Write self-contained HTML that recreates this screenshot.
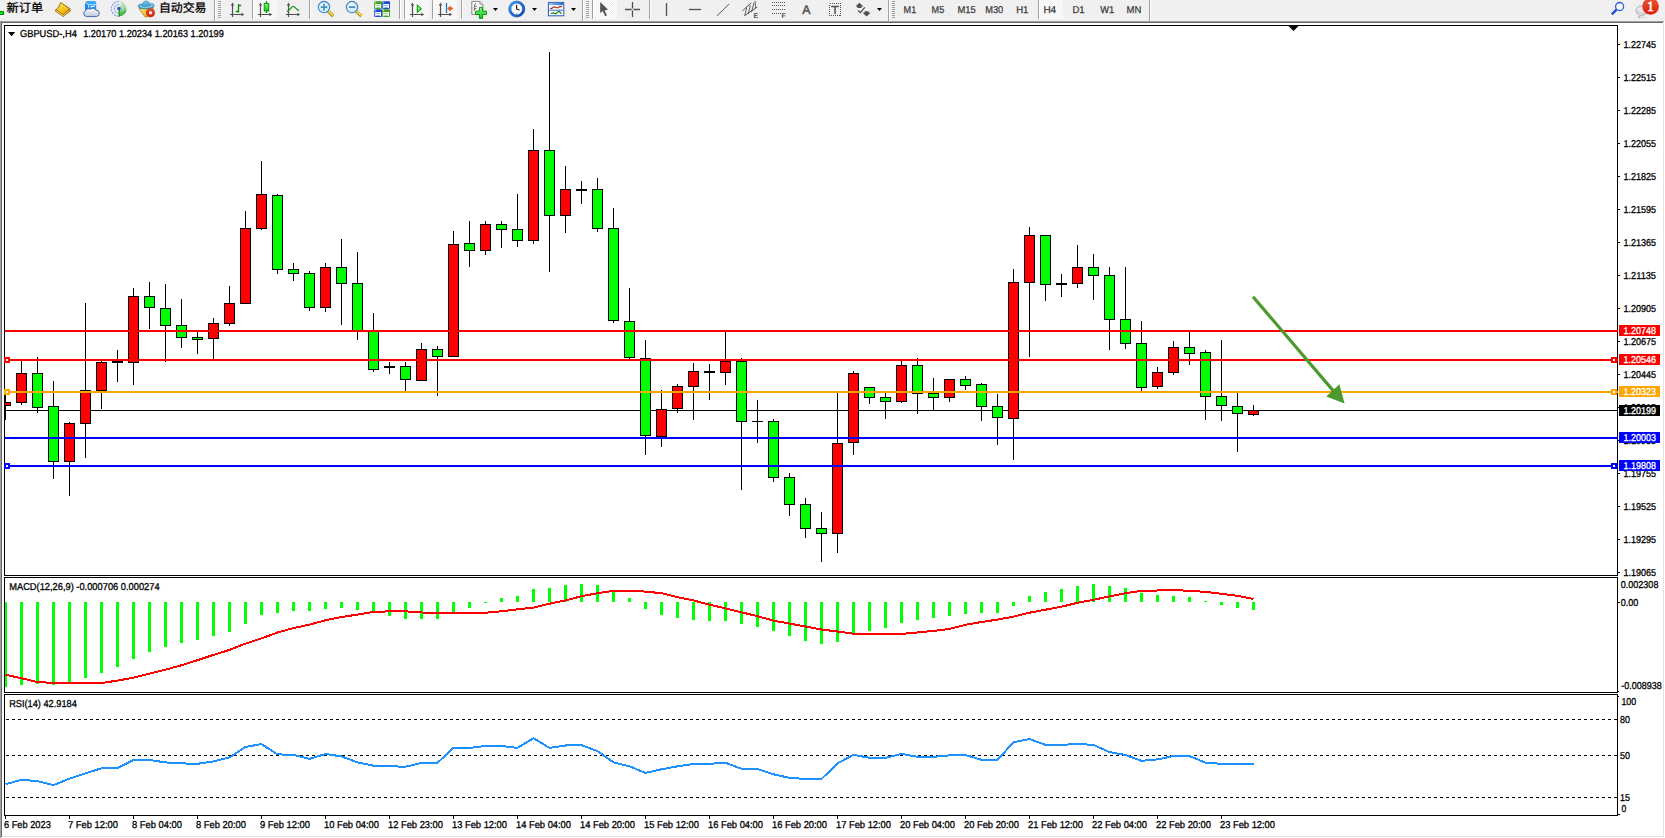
<!DOCTYPE html>
<html lang="zh"><head><meta charset="utf-8"><title>GBPUSD-,H4</title>
<style>html,body{margin:0;padding:0;background:#fff;overflow:hidden}svg{display:block}text{font-family:"Liberation Sans", "Noto Sans CJK SC", sans-serif;text-rendering:geometricPrecision}.c{shape-rendering:crispEdges}</style></head><body>
<svg width="1665" height="838" viewBox="0 0 1665 838">
<defs><clipPath id="cpMain"><rect x="5" y="26" width="1612" height="549"/></clipPath><clipPath id="cpTop"><rect x="0" y="0" width="1665" height="21"/></clipPath><pattern id="chk" width="2" height="2" patternUnits="userSpaceOnUse"><rect width="2" height="2" fill="#f0f0f0"/><rect width="1" height="1" fill="#fff"/><rect x="1" y="1" width="1" height="1" fill="#fff"/></pattern><linearGradient id="gGold" x1="0" y1="0" x2="1" y2="1"><stop offset="0" stop-color="#fbe85a"/><stop offset=".5" stop-color="#f2c81a"/><stop offset="1" stop-color="#dca012"/></linearGradient><linearGradient id="gBlueBox" x1="0" y1="0" x2="1" y2="0"><stop offset="0" stop-color="#0a8cf0"/><stop offset=".35" stop-color="#27a4f8"/><stop offset="1" stop-color="#1590f0"/></linearGradient><linearGradient id="gCloud" x1="0" y1="0" x2="0" y2="1"><stop offset="0" stop-color="#ffffff"/><stop offset="1" stop-color="#b9c7de"/></linearGradient><linearGradient id="gGreenV" x1="0" y1="0" x2="0" y2="1"><stop offset="0" stop-color="#7dfc7d"/><stop offset="1" stop-color="#10c410"/></linearGradient><linearGradient id="gRedB" x1="0" y1="0" x2="0" y2="1"><stop offset="0" stop-color="#e9573a"/><stop offset="1" stop-color="#d81e08"/></linearGradient><linearGradient id="gHat" x1="0" y1="0" x2="0" y2="1"><stop offset="0" stop-color="#7cc4ea"/><stop offset="1" stop-color="#3c98cc"/></linearGradient><linearGradient id="gFun" x1="0" y1="0" x2="1" y2="1"><stop offset="0" stop-color="#fbe870"/><stop offset="1" stop-color="#e2a818"/></linearGradient><radialGradient id="gLens" cx=".4" cy=".35" r=".7"><stop offset="0" stop-color="#f4fbff"/><stop offset="1" stop-color="#bfe3f8"/></radialGradient><linearGradient id="gSig" x1="0" y1="0" x2=".35" y2="1"><stop offset="0" stop-color="#dcebe0"/><stop offset=".55" stop-color="#8cc890"/><stop offset="1" stop-color="#1fa01f"/></linearGradient><linearGradient id="gClk" x1="0" y1="0" x2="1" y2="1"><stop offset="0" stop-color="#4a9cf0"/><stop offset=".5" stop-color="#1c6cd4"/><stop offset="1" stop-color="#0a48a8"/></linearGradient><linearGradient id="gHdr" x1="0" y1="0" x2="1" y2="0"><stop offset="0" stop-color="#9cc4f0"/><stop offset="1" stop-color="#2c68c8"/></linearGradient></defs>
<rect x="0" y="0" width="1665" height="838" fill="#ffffff"/>
<rect x="0" y="0" width="1665" height="21" fill="#f0f0f0"/>
<g class="c">
<rect x="0" y="21" width="1664" height="1" fill="#a0a0a0"/>
<rect x="0" y="22" width="1663" height="1" fill="#696969"/>
<rect x="0" y="21" width="1" height="817" fill="#a0a0a0"/>
<rect x="1" y="22" width="1" height="815" fill="#696969"/>
<rect x="1663" y="23" width="1" height="814" fill="#e3e3e3"/>
<rect x="2" y="836" width="1662" height="1" fill="#e3e3e3"/>
<rect x="1664" y="21" width="1" height="817" fill="#ffffff"/>
<rect x="1" y="837" width="1664" height="1" fill="#ffffff"/>
</g>
<g clip-path="url(#cpTop)">
<rect x="0" y="11" width="4" height="4" fill="#0a8a0a" class="c"/>
<rect x="0" y="12" width="3" height="2" fill="#00e422" class="c"/>
<text x="6.6" y="11.8" font-size="12" fill="#000" textLength="36.5" lengthAdjust="spacingAndGlyphs" stroke="#000" stroke-width="0.3">新订单</text>
<path d="M60.5 1.9L70 8.3L71.1 10.7L63.2 17.1L54.8 11L55.5 9.6C57.6 8.2 59 5.6 60.5 1.9z" fill="#a96c0a"/><path d="M60.8 3.2L69 8.8L63.2 14.2L56.8 9.8C58.4 8.2 59.8 6 60.8 3.2z" fill="url(#gGold)"/><path d="M56 10.6L63.2 15.7L70 10" fill="none" stroke="#f0d27a" stroke-width="1"/><path d="M61 4.2L67.6 8.8" fill="none" stroke="#fbf0a0" stroke-width=".7" opacity=".8"/>
<path d="M85.2 2.6L87.6 1.2H94.8L96.2 2.6V10H85.2z" fill="#1b94f2"/><path d="M85.2 2.6L88.4 4.6V10H85.2z" fill="#0f86ea"/><path d="M85.2 2.6L87.6 1.2H94.8L96.2 2.6L95.6 4.6H88.4z" fill="#3aa8fa"/><path d="M85.4 2.8L88.4 4.7V10M88.4 4.7H96" stroke="#e4f4ff" stroke-width=".8" fill="none"/><path d="M90.4 6.9L94.6 6.1" stroke="#f0f8ff" stroke-width="1.1"/><path d="M86.5 16.6a3.2 3.2 0 0 1-.6-6.2a3 3 0 0 1 4.4-1.2a3.4 3.4 0 0 1 5.4.9a3.2 3.2 0 0 1 .6 6.5z" fill="url(#gCloud)" stroke="#4668aa" stroke-width="1"/>
<path d="M119 9V16.6A7.7 7.7 0 0 0 126.5 8.4A7.7 7.7 0 0 0 121.6 1.8z" fill="url(#gSig)" opacity=".9"/><g fill="none" stroke="#8aa4e6" stroke-width="1.2" stroke-dasharray="2.2 .8"><path d="M118.8 1.4A7.4 7.4 0 0 0 118.8 16.2"/><path d="M118.8 4.4A4.4 4.4 0 0 0 118.8 13.2"/></g><g fill="none" stroke="#cfe6d4" stroke-width="1.1"><path d="M118.8 1.4A7.4 7.4 0 0 1 126.2 8.8"/><path d="M118.8 4.4A4.4 4.4 0 0 1 122.9 10.4"/></g><path d="M119.3 9V16.6" stroke="#12a012" stroke-width="1.5"/><circle cx="118.8" cy="8.6" r="1.8" fill="#2456d6"/>
<path d="M139 8.6L153.6 7.4L147.4 16.9L145 16.8z" fill="url(#gFun)" stroke="#c08a12" stroke-width=".9"/><path d="M138.2 6.4C138.2 4.6 140.4 3.6 142.4 4.4L149.8 4.2C151.8 3 154.2 3.8 154 5.6C153.6 8 149.6 8.8 146 8.8C142.2 8.8 138.2 8.2 138.2 6.4z" fill="url(#gHat)" stroke="#2a86b8" stroke-width=".8"/><path d="M142.3 6C142.3 2.6 143.8 1.1 146.1 1.1C148.4 1.1 149.9 2.6 149.9 6C148.8 6.9 143.4 6.9 142.3 6z" fill="url(#gHat)" stroke="#2a86b8" stroke-width=".7"/><path d="M140.2 6.3C141.8 7.7 150.4 7.7 152.2 5.7" stroke="#c4e4f6" stroke-width=".8" fill="none"/><circle cx="150.5" cy="12.8" r="4.1" fill="url(#gRedB)" stroke="#b81808" stroke-width=".6"/><rect x="149.2" y="11.5" width="2.7" height="2.7" fill="#fff"/>
<text x="158.9" y="11.8" font-size="12" fill="#000" textLength="47.6" lengthAdjust="spacingAndGlyphs" stroke="#000" stroke-width="0.3">自动交易</text>
<rect x="214" y="0" width="1" height="21" fill="#a0a0a0" class="c"/>
<rect x="215" y="0" width="1" height="21" fill="#ffffff" class="c"/>
<rect x="218" y="1" width="3" height="1" fill="#a0a0a0" class="c"/>
<rect x="218" y="3" width="3" height="1" fill="#a0a0a0" class="c"/>
<rect x="218" y="5" width="3" height="1" fill="#a0a0a0" class="c"/>
<rect x="218" y="7" width="3" height="1" fill="#a0a0a0" class="c"/>
<rect x="218" y="9" width="3" height="1" fill="#a0a0a0" class="c"/>
<rect x="218" y="11" width="3" height="1" fill="#a0a0a0" class="c"/>
<rect x="218" y="13" width="3" height="1" fill="#a0a0a0" class="c"/>
<rect x="218" y="15" width="3" height="1" fill="#a0a0a0" class="c"/>
<rect x="218" y="17" width="3" height="1" fill="#a0a0a0" class="c"/>
<g stroke="#505050" stroke-width="1.2" fill="none"><path d="M232.5 4V17M230 14.5H242.5"/></g><path d="M232.5 2.6l-1.7 2.8h3.4zM244.2 14.5l-2.8-1.7v3.4z" fill="#505050"/>
<path d="M238.5 4V12.8M238.5 5.5H241.2M235.8 11.5H238.5" stroke="#0c8c0c" stroke-width="1.3" fill="none"/>
<rect x="252" y="0" width="1" height="19" fill="#a0a0a0" class="c"/>
<rect x="253" y="0" width="1" height="19" fill="#ffffff" class="c"/>
<rect x="254" y="0" width="23" height="19" fill="url(#chk)" class="c"/>
<g stroke="#505050" stroke-width="1.2" fill="none"><path d="M260.5 4V17M258 14.5H270.5"/></g><path d="M260.5 2.6l-1.7 2.8h3.4zM272.2 14.5l-2.8-1.7v3.4z" fill="#505050"/>
<path d="M266.5 1V13" stroke="#0c8c0c" stroke-width="1.2"/><rect x="264.2" y="3.4" width="4.6" height="7.6" fill="url(#gGreenV)" stroke="#0c8c0c" stroke-width=".9"/>
<g stroke="#505050" stroke-width="1.2" fill="none"><path d="M288.5 4V17M286 14.5H298.5"/></g><path d="M288.5 2.6l-1.7 2.8h3.4zM300.2 14.5l-2.8-1.7v3.4z" fill="#505050"/>
<path d="M287 11.6C290 10 291.5 6.4 293.2 6.4C295 6.4 296.5 9.8 299 10.6" stroke="#2a9a2a" stroke-width="1.3" fill="none"/>
<rect x="309" y="0" width="1" height="19" fill="#a0a0a0" class="c"/>
<rect x="310" y="0" width="1" height="19" fill="#ffffff" class="c"/>
<path d="M327.8 10.8L333.4 16.2" stroke="#b08a0c" stroke-width="3.2" stroke-linecap="butt"/><path d="M328 10.6L333.4 15.8" stroke="#f4e060" stroke-width="1.5"/><circle cx="324" cy="7.1" r="5.7" fill="url(#gLens)" stroke="#3f84c8" stroke-width="1.1"/>
<path d="M320.7 7.1H327.3M324 3.8V10.4" stroke="#4c8eb6" stroke-width="1.7"/>
<path d="M355.8 10.8L361.4 16.2" stroke="#b08a0c" stroke-width="3.2" stroke-linecap="butt"/><path d="M356 10.6L361.4 15.8" stroke="#f4e060" stroke-width="1.5"/><circle cx="352" cy="7.1" r="5.7" fill="url(#gLens)" stroke="#3f84c8" stroke-width="1.1"/>
<path d="M348.7 7.1H355.3" stroke="#4c8eb6" stroke-width="1.7"/>
<rect x="374.2" y="1.2" width="7.8" height="7.8" rx=".9" fill="#3aa020"/><path d="M375.2 4.1h5.8v4.1h-1.1v-.8h-3.6v.8h-1.1z" fill="#fff"/><rect x="376.09999999999997" y="5.1" width="4" height=".9" fill="#8ed078"/><rect x="375.09999999999997" y="2.1" width="1" height="1" fill="#e8f0ff"/>
<rect x="382.2" y="1.2" width="7.8" height="7.8" rx=".9" fill="#1c48d0"/><path d="M383.2 4.1h5.8v4.1h-1.1v-.8h-3.6v.8h-1.1z" fill="#fff"/><rect x="384.09999999999997" y="5.1" width="4" height=".9" fill="#7c9cf0"/><rect x="383.09999999999997" y="2.1" width="1" height="1" fill="#e8f0ff"/>
<rect x="374.2" y="9.2" width="7.8" height="7.8" rx=".9" fill="#1c48d0"/><path d="M375.2 12.1h5.8v4.1h-1.1v-.8h-3.6v.8h-1.1z" fill="#fff"/><rect x="376.09999999999997" y="13.1" width="4" height=".9" fill="#7c9cf0"/><rect x="375.09999999999997" y="10.1" width="1" height="1" fill="#e8f0ff"/>
<rect x="382.2" y="9.2" width="7.8" height="7.8" rx=".9" fill="#3aa020"/><path d="M383.2 12.1h5.8v4.1h-1.1v-.8h-3.6v.8h-1.1z" fill="#fff"/><rect x="384.09999999999997" y="13.1" width="4" height=".9" fill="#8ed078"/><rect x="383.09999999999997" y="10.1" width="1" height="1" fill="#e8f0ff"/>
<rect x="399" y="0" width="1" height="19" fill="#a0a0a0" class="c"/>
<rect x="400" y="0" width="1" height="19" fill="#ffffff" class="c"/>
<rect x="404" y="0" width="1" height="19" fill="#a0a0a0" class="c"/>
<rect x="405" y="0" width="1" height="19" fill="#ffffff" class="c"/>
<rect x="406" y="0" width="23" height="19" fill="url(#chk)" class="c"/>
<g stroke="#505050" stroke-width="1.2" fill="none"><path d="M412.5 4V17M410 14.5H422.5"/></g><path d="M412.5 2.6l-1.7 2.8h3.4zM424.2 14.5l-2.8-1.7v3.4z" fill="#505050"/>
<path d="M417.3 5.2V12.2L421.3 8.7z" fill="#8ef08e" stroke="#12a012" stroke-width="1.1"/>
<rect x="432" y="0" width="1" height="19" fill="#a0a0a0" class="c"/>
<rect x="433" y="0" width="1" height="19" fill="#ffffff" class="c"/>
<rect x="434" y="0" width="23" height="19" fill="url(#chk)" class="c"/>
<g stroke="#505050" stroke-width="1.2" fill="none"><path d="M440.5 4V17M438 14.5H450.5"/></g><path d="M440.5 2.6l-1.7 2.8h3.4zM452.2 14.5l-2.8-1.7v3.4z" fill="#505050"/>
<path d="M446.5 3V13" stroke="#1878c0" stroke-width="1.3"/><path d="M447.6 8.5L450.4 6V7.8H452.4V9.2H450.4V11z" fill="#f06a10" stroke="#c83c08" stroke-width=".5"/>
<rect x="461" y="0" width="1" height="19" fill="#a0a0a0" class="c"/>
<rect x="462" y="0" width="1" height="19" fill="#ffffff" class="c"/>
<path d="M471.8 1.4H479.8L482.8 4.2V14.4H471.8z" fill="#fbfbfb" stroke="#7c7c7c" stroke-width=".9"/><path d="M479.8 1.4V4.2H482.8" fill="#dedede" stroke="#7c7c7c" stroke-width=".7"/><path d="M476 3.6c-1.6.4-1.8 1.6-1.4 2.8c-.6.6-.8 1.4-.2 2c-.6 1-.4 2 .6 2.6M474.6 6.4h2.2M474.4 8.6h2" stroke="#4a4030" stroke-width=".8" fill="none"/><path d="M479.4 7.4h3.2v3.8h3.9v3.3h-3.9v3.9h-3.2v-3.9h-3.9v-3.3h3.9z" fill="url(#gGreenV)" stroke="#0a8a0a" stroke-width=".9"/>
<path d="M493 8h5l-2.5 3z" fill="#000"/>
<circle cx="516.8" cy="9" r="6.8" fill="#fdfdfd" stroke="url(#gClk)" stroke-width="2.6"/><circle cx="516.8" cy="9" r="8.05" fill="none" stroke="#0c4ca8" stroke-width=".5"/><path d="M516.6 9.2V4.9M516.6 9L519.6 10" stroke="#202020" stroke-width="1.2" fill="none"/><g fill="#8a96a6"><rect x="516.3" y="3.4" width=".8" height=".9"/><rect x="516" y="13.4" width="1.4" height=".9" fill="#5aa0f0"/><rect x="511.3" y="8.6" width=".9" height=".8"/><rect x="521.4" y="8.6" width=".9" height=".8"/><rect x="513" y="5" width=".8" height=".8"/><rect x="520" y="5" width=".8" height=".8"/><rect x="513" y="12.4" width=".8" height=".8"/><rect x="520" y="12.4" width=".8" height=".8"/></g>
<path d="M532 8h5l-2.5 3z" fill="#000"/>
<rect x="548.4" y="2.4" width="15.4" height="13.4" fill="#fff" stroke="#2a5cb8" stroke-width="1"/><rect x="548.9" y="2.9" width="14.4" height="2.3" fill="url(#gHdr)"/><path d="M548.4 10.2H563.8" stroke="#3a6cc4" stroke-width="1"/><path d="M550.2 8.4H551.8L553.4 7H555L556.4 7.8H558.2L559.6 6.6H561.8" stroke="#a01c04" stroke-width="1.1" fill="none"/><path d="M550.8 13.4H552.2L553.4 12.6L554.8 13.6H556.2L558.6 11.4L559.6 11.6L561.6 13.8" stroke="#0e8418" stroke-width="1.1" fill="none"/>
<path d="M571 8h5l-2.5 3z" fill="#000"/>
<rect x="582" y="0" width="1" height="21" fill="#a0a0a0" class="c"/>
<rect x="583" y="0" width="1" height="21" fill="#ffffff" class="c"/>
<rect x="586" y="1" width="3" height="1" fill="#a0a0a0" class="c"/>
<rect x="586" y="3" width="3" height="1" fill="#a0a0a0" class="c"/>
<rect x="586" y="5" width="3" height="1" fill="#a0a0a0" class="c"/>
<rect x="586" y="7" width="3" height="1" fill="#a0a0a0" class="c"/>
<rect x="586" y="9" width="3" height="1" fill="#a0a0a0" class="c"/>
<rect x="586" y="11" width="3" height="1" fill="#a0a0a0" class="c"/>
<rect x="586" y="13" width="3" height="1" fill="#a0a0a0" class="c"/>
<rect x="586" y="15" width="3" height="1" fill="#a0a0a0" class="c"/>
<rect x="586" y="17" width="3" height="1" fill="#a0a0a0" class="c"/>
<rect x="592" y="0" width="1" height="19" fill="#a0a0a0" class="c"/>
<rect x="593" y="0" width="1" height="19" fill="#ffffff" class="c"/>
<rect x="594" y="0" width="23" height="19" fill="url(#chk)" class="c"/>
<path d="M600.2 2V13L602.7 11L605.2 16.3L606.9 15.4L604.5 10.3L608 9.7z" fill="#505050"/>
<path d="M625 9.5H631.6M633.4 9.5H640M632.5 2V8.6M632.5 10.4V17" stroke="#505050" stroke-width="1.3"/>
<rect x="649" y="0" width="1" height="19" fill="#a0a0a0" class="c"/>
<rect x="650" y="0" width="1" height="19" fill="#ffffff" class="c"/>
<path d="M666.5 3V16" stroke="#505050" stroke-width="1.3"/>
<path d="M689 9.5H701" stroke="#505050" stroke-width="1.3"/>
<path d="M717 15.8L729.2 3.9" stroke="#5a5a5a" stroke-width="1"/>
<g stroke="#505050" stroke-width="1" fill="none"><path d="M742.4 10.9L751.2 2.8M744.2 15.8L757.2 7.1"/><path d="M746.7 7.6L744.9 15.4M750.3 5.2L748.2 14.2M753.9 2.8L751.5 12.2M755 .9L755.6 8" stroke-width=".9"/></g>
<text x="753.6" y="17.8" font-size="7" fill="#505050" font-weight="bold">E</text>
<g stroke="#505050" stroke-width="1" stroke-dasharray="1 1" class="c"><path d="M772 2.5H785M772 5.5H785M772 9.5H785M772 13.5H781"/></g>
<text x="781.6" y="17.8" font-size="7" fill="#505050" font-weight="bold">F</text>
<text x="802.3" y="14.1" font-size="12.5" fill="#505050" textLength="8.2" lengthAdjust="spacingAndGlyphs" stroke="#505050" stroke-width="0.5">A</text>
<rect x="829.5" y="3.5" width="11" height="12" fill="none" stroke="#505050" stroke-width="1" stroke-dasharray="1 1" class="c"/>
<path d="M831.2 6.4H838.8M835 6.4V14" stroke="#505050" stroke-width="1.5" fill="none"/>
<path d="M859.4 2.8L863.4 6.5H861.5V7.9H857.3V6.5H855.4z" fill="#505050"/><path d="M866.6 16.4L862.6 12.7H864.5V11.3H868.7V12.7H870.6z" fill="#505050"/><path d="M858 10.6L860.4 12.6L864.8 7.4" stroke="#505050" stroke-width="1.3" fill="none"/>
<path d="M877 8h5l-2.5 3z" fill="#000"/>
<rect x="888" y="0" width="1" height="21" fill="#a0a0a0" class="c"/>
<rect x="889" y="0" width="1" height="21" fill="#ffffff" class="c"/>
<rect x="892" y="1" width="3" height="1" fill="#a0a0a0" class="c"/>
<rect x="892" y="3" width="3" height="1" fill="#a0a0a0" class="c"/>
<rect x="892" y="5" width="3" height="1" fill="#a0a0a0" class="c"/>
<rect x="892" y="7" width="3" height="1" fill="#a0a0a0" class="c"/>
<rect x="892" y="9" width="3" height="1" fill="#a0a0a0" class="c"/>
<rect x="892" y="11" width="3" height="1" fill="#a0a0a0" class="c"/>
<rect x="892" y="13" width="3" height="1" fill="#a0a0a0" class="c"/>
<rect x="892" y="15" width="3" height="1" fill="#a0a0a0" class="c"/>
<rect x="892" y="17" width="3" height="1" fill="#a0a0a0" class="c"/>
<text x="903.6" y="13.2" font-size="10" fill="#383838" textLength="12.6" lengthAdjust="spacingAndGlyphs" stroke="#383838" stroke-width="0.25">M1</text>
<text x="931.6" y="13.2" font-size="10" fill="#383838" textLength="12.6" lengthAdjust="spacingAndGlyphs" stroke="#383838" stroke-width="0.25">M5</text>
<text x="957.4" y="13.2" font-size="10" fill="#383838" textLength="18.2" lengthAdjust="spacingAndGlyphs" stroke="#383838" stroke-width="0.25">M15</text>
<text x="985.2" y="13.2" font-size="10" fill="#383838" textLength="18" lengthAdjust="spacingAndGlyphs" stroke="#383838" stroke-width="0.25">M30</text>
<text x="1016.2" y="13.2" font-size="10" fill="#383838" textLength="12.2" lengthAdjust="spacingAndGlyphs" stroke="#383838" stroke-width="0.25">H1</text>
<rect x="1038" y="0" width="1" height="19" fill="#a0a0a0" class="c"/>
<rect x="1039" y="0" width="1" height="19" fill="#ffffff" class="c"/>
<rect x="1040" y="0" width="23" height="19" fill="url(#chk)" class="c"/>
<text x="1043.4" y="13.2" font-size="10" fill="#383838" textLength="12.8" lengthAdjust="spacingAndGlyphs" stroke="#383838" stroke-width="0.25">H4</text>
<text x="1072.4" y="13.2" font-size="10" fill="#383838" textLength="12.2" lengthAdjust="spacingAndGlyphs" stroke="#383838" stroke-width="0.25">D1</text>
<text x="1100.2" y="13.2" font-size="10" fill="#383838" textLength="14" lengthAdjust="spacingAndGlyphs" stroke="#383838" stroke-width="0.25">W1</text>
<text x="1126.6" y="13.2" font-size="10" fill="#383838" textLength="14.8" lengthAdjust="spacingAndGlyphs" stroke="#383838" stroke-width="0.25">MN</text>
<rect x="1149" y="0" width="1" height="21" fill="#a0a0a0" class="c"/>
<rect x="1150" y="0" width="1" height="21" fill="#ffffff" class="c"/>
<path d="M1617 9.2L1611.8 14.4" stroke="#2254cc" stroke-width="2.6" stroke-linecap="butt"/><circle cx="1619.6" cy="6.5" r="4" fill="#f8f8fc" stroke="#2862d4" stroke-width="1.3"/>
<ellipse cx="1642" cy="17.6" rx="5" ry="1" fill="#000" opacity=".08"/><path d="M1641.8 5.8C1645.4 5.8 1648 7.8 1648 10.6C1648 13.4 1645.2 15.4 1641.8 15.4C1641.4 15.4 1641 15.4 1640.6 15.3L1639 17.8L1638.8 14.6C1637 13.8 1636 12.4 1636 10.6C1636 7.8 1638.4 5.8 1641.8 5.8z" fill="#e6e6ee" stroke="#a8a8a8" stroke-width=".9"/><path d="M1637.4 11.4C1639 13.6 1644 14.2 1646.6 12.6" stroke="#c4c4cc" stroke-width="1.2" fill="none"/><circle cx="1650.6" cy="6.4" r="8.3" fill="url(#gRedB)"/>
<text x="1650.4" y="11.2" font-size="14" fill="#fff" text-anchor="middle" style="font-family:'Liberation Serif',serif" stroke="#fff" stroke-width="0.55">1</text>
</g>
<g class="c" fill="none" stroke="#000" stroke-width="1">
<rect x="4.5" y="25.5" width="1613" height="550"/>
<rect x="4.5" y="577.5" width="1613" height="115"/>
<rect x="4.5" y="694.5" width="1613" height="121"/>
</g>
<path d="M8 32H15.2L11.6 36.2z" fill="#000"/>
<path d="M1288.5 26H1298.5L1293.5 31z" fill="#000"/>
<text x="20" y="37" font-size="10" fill="#000" textLength="56.8" lengthAdjust="spacingAndGlyphs" stroke="#000" stroke-width="0.3">GBPUSD-,H4</text>
<text x="83.2" y="37" font-size="10" fill="#000" textLength="140.6" lengthAdjust="spacingAndGlyphs" stroke="#000" stroke-width="0.3">1.20170 1.20234 1.20163 1.20199</text>
<rect x="5" y="410" width="1612" height="1" fill="#000" class="c"/>
<g class="c" clip-path="url(#cpMain)">
<rect x="5" y="395" width="1" height="25" fill="#000"/>
<rect x="0" y="402" width="11" height="4" fill="#000"/>
<rect x="1" y="403" width="9" height="2" fill="#ff0000"/>
<rect x="21" y="361" width="1" height="44" fill="#000"/>
<rect x="16" y="373" width="11" height="30" fill="#000"/>
<rect x="17" y="374" width="9" height="28" fill="#ff0000"/>
<rect x="37" y="357" width="1" height="56" fill="#000"/>
<rect x="32" y="373" width="11" height="35" fill="#000"/>
<rect x="33" y="374" width="9" height="33" fill="#00ff00"/>
<rect x="53" y="381" width="1" height="98" fill="#000"/>
<rect x="48" y="406" width="11" height="56" fill="#000"/>
<rect x="49" y="407" width="9" height="54" fill="#00ff00"/>
<rect x="69" y="422" width="1" height="74" fill="#000"/>
<rect x="64" y="423" width="11" height="39" fill="#000"/>
<rect x="65" y="424" width="9" height="37" fill="#ff0000"/>
<rect x="85" y="303" width="1" height="155" fill="#000"/>
<rect x="80" y="390" width="11" height="34" fill="#000"/>
<rect x="81" y="391" width="9" height="32" fill="#ff0000"/>
<rect x="101" y="361" width="1" height="48" fill="#000"/>
<rect x="96" y="362" width="11" height="29" fill="#000"/>
<rect x="97" y="363" width="9" height="27" fill="#ff0000"/>
<rect x="117" y="350" width="1" height="32" fill="#000"/>
<rect x="112" y="361" width="11" height="2" fill="#000"/>
<rect x="133" y="288" width="1" height="97" fill="#000"/>
<rect x="128" y="296" width="11" height="67" fill="#000"/>
<rect x="129" y="297" width="9" height="65" fill="#ff0000"/>
<rect x="149" y="282" width="1" height="47" fill="#000"/>
<rect x="144" y="296" width="11" height="12" fill="#000"/>
<rect x="145" y="297" width="9" height="10" fill="#00ff00"/>
<rect x="165" y="284" width="1" height="78" fill="#000"/>
<rect x="160" y="308" width="11" height="18" fill="#000"/>
<rect x="161" y="309" width="9" height="16" fill="#00ff00"/>
<rect x="181" y="299" width="1" height="49" fill="#000"/>
<rect x="176" y="325" width="11" height="13" fill="#000"/>
<rect x="177" y="326" width="9" height="11" fill="#00ff00"/>
<rect x="197" y="332" width="1" height="22" fill="#000"/>
<rect x="192" y="337" width="11" height="3" fill="#000"/>
<rect x="193" y="338" width="9" height="1" fill="#00ff00"/>
<rect x="213" y="318" width="1" height="41" fill="#000"/>
<rect x="208" y="323" width="11" height="16" fill="#000"/>
<rect x="209" y="324" width="9" height="14" fill="#ff0000"/>
<rect x="229" y="286" width="1" height="40" fill="#000"/>
<rect x="224" y="303" width="11" height="21" fill="#000"/>
<rect x="225" y="304" width="9" height="19" fill="#ff0000"/>
<rect x="245" y="211" width="1" height="93" fill="#000"/>
<rect x="240" y="228" width="11" height="76" fill="#000"/>
<rect x="241" y="229" width="9" height="74" fill="#ff0000"/>
<rect x="261" y="161" width="1" height="69" fill="#000"/>
<rect x="256" y="194" width="11" height="35" fill="#000"/>
<rect x="257" y="195" width="9" height="33" fill="#ff0000"/>
<rect x="277" y="194" width="1" height="80" fill="#000"/>
<rect x="272" y="195" width="11" height="75" fill="#000"/>
<rect x="273" y="196" width="9" height="73" fill="#00ff00"/>
<rect x="293" y="263" width="1" height="18" fill="#000"/>
<rect x="288" y="269" width="11" height="5" fill="#000"/>
<rect x="289" y="270" width="9" height="3" fill="#00ff00"/>
<rect x="309" y="271" width="1" height="40" fill="#000"/>
<rect x="304" y="273" width="11" height="35" fill="#000"/>
<rect x="305" y="274" width="9" height="33" fill="#00ff00"/>
<rect x="325" y="263" width="1" height="49" fill="#000"/>
<rect x="320" y="267" width="11" height="41" fill="#000"/>
<rect x="321" y="268" width="9" height="39" fill="#ff0000"/>
<rect x="341" y="239" width="1" height="86" fill="#000"/>
<rect x="336" y="267" width="11" height="17" fill="#000"/>
<rect x="337" y="268" width="9" height="15" fill="#00ff00"/>
<rect x="357" y="252" width="1" height="88" fill="#000"/>
<rect x="352" y="283" width="11" height="48" fill="#000"/>
<rect x="353" y="284" width="9" height="46" fill="#00ff00"/>
<rect x="373" y="313" width="1" height="59" fill="#000"/>
<rect x="368" y="331" width="11" height="39" fill="#000"/>
<rect x="369" y="332" width="9" height="37" fill="#00ff00"/>
<rect x="389" y="362" width="1" height="12" fill="#000"/>
<rect x="384" y="366" width="11" height="2" fill="#000"/>
<rect x="405" y="362" width="1" height="29" fill="#000"/>
<rect x="400" y="366" width="11" height="14" fill="#000"/>
<rect x="401" y="367" width="9" height="12" fill="#00ff00"/>
<rect x="421" y="343" width="1" height="38" fill="#000"/>
<rect x="416" y="349" width="11" height="32" fill="#000"/>
<rect x="417" y="350" width="9" height="30" fill="#ff0000"/>
<rect x="437" y="346" width="1" height="50" fill="#000"/>
<rect x="432" y="349" width="11" height="8" fill="#000"/>
<rect x="433" y="350" width="9" height="6" fill="#00ff00"/>
<rect x="453" y="231" width="1" height="126" fill="#000"/>
<rect x="448" y="244" width="11" height="113" fill="#000"/>
<rect x="449" y="245" width="9" height="111" fill="#ff0000"/>
<rect x="469" y="221" width="1" height="46" fill="#000"/>
<rect x="464" y="243" width="11" height="8" fill="#000"/>
<rect x="465" y="244" width="9" height="6" fill="#00ff00"/>
<rect x="485" y="221" width="1" height="34" fill="#000"/>
<rect x="480" y="224" width="11" height="27" fill="#000"/>
<rect x="481" y="225" width="9" height="25" fill="#ff0000"/>
<rect x="501" y="221" width="1" height="27" fill="#000"/>
<rect x="496" y="224" width="11" height="6" fill="#000"/>
<rect x="497" y="225" width="9" height="4" fill="#00ff00"/>
<rect x="517" y="194" width="1" height="53" fill="#000"/>
<rect x="512" y="229" width="11" height="12" fill="#000"/>
<rect x="513" y="230" width="9" height="10" fill="#00ff00"/>
<rect x="533" y="129" width="1" height="115" fill="#000"/>
<rect x="528" y="150" width="11" height="91" fill="#000"/>
<rect x="529" y="151" width="9" height="89" fill="#ff0000"/>
<rect x="549" y="52" width="1" height="220" fill="#000"/>
<rect x="544" y="150" width="11" height="66" fill="#000"/>
<rect x="545" y="151" width="9" height="64" fill="#00ff00"/>
<rect x="565" y="166" width="1" height="67" fill="#000"/>
<rect x="560" y="189" width="11" height="27" fill="#000"/>
<rect x="561" y="190" width="9" height="25" fill="#ff0000"/>
<rect x="581" y="181" width="1" height="23" fill="#000"/>
<rect x="576" y="189" width="11" height="2" fill="#000"/>
<rect x="597" y="178" width="1" height="54" fill="#000"/>
<rect x="592" y="189" width="11" height="40" fill="#000"/>
<rect x="593" y="190" width="9" height="38" fill="#00ff00"/>
<rect x="613" y="208" width="1" height="115" fill="#000"/>
<rect x="608" y="228" width="11" height="93" fill="#000"/>
<rect x="609" y="229" width="9" height="91" fill="#00ff00"/>
<rect x="629" y="288" width="1" height="71" fill="#000"/>
<rect x="624" y="321" width="11" height="37" fill="#000"/>
<rect x="625" y="322" width="9" height="35" fill="#00ff00"/>
<rect x="645" y="340" width="1" height="115" fill="#000"/>
<rect x="640" y="358" width="11" height="78" fill="#000"/>
<rect x="641" y="359" width="9" height="76" fill="#00ff00"/>
<rect x="661" y="390" width="1" height="57" fill="#000"/>
<rect x="656" y="409" width="11" height="28" fill="#000"/>
<rect x="657" y="410" width="9" height="26" fill="#ff0000"/>
<rect x="677" y="384" width="1" height="29" fill="#000"/>
<rect x="672" y="386" width="11" height="23" fill="#000"/>
<rect x="673" y="387" width="9" height="21" fill="#ff0000"/>
<rect x="693" y="363" width="1" height="57" fill="#000"/>
<rect x="688" y="371" width="11" height="16" fill="#000"/>
<rect x="689" y="372" width="9" height="14" fill="#ff0000"/>
<rect x="709" y="364" width="1" height="36" fill="#000"/>
<rect x="704" y="371" width="11" height="2" fill="#000"/>
<rect x="725" y="332" width="1" height="53" fill="#000"/>
<rect x="720" y="361" width="11" height="12" fill="#000"/>
<rect x="721" y="362" width="9" height="10" fill="#ff0000"/>
<rect x="741" y="358" width="1" height="132" fill="#000"/>
<rect x="736" y="361" width="11" height="61" fill="#000"/>
<rect x="737" y="362" width="9" height="59" fill="#00ff00"/>
<rect x="757" y="400" width="1" height="43" fill="#000"/>
<rect x="752" y="421" width="11" height="1" fill="#000"/>
<rect x="773" y="419" width="1" height="63" fill="#000"/>
<rect x="768" y="421" width="11" height="57" fill="#000"/>
<rect x="769" y="422" width="9" height="55" fill="#00ff00"/>
<rect x="789" y="473" width="1" height="43" fill="#000"/>
<rect x="784" y="477" width="11" height="28" fill="#000"/>
<rect x="785" y="478" width="9" height="26" fill="#00ff00"/>
<rect x="805" y="498" width="1" height="40" fill="#000"/>
<rect x="800" y="504" width="11" height="25" fill="#000"/>
<rect x="801" y="505" width="9" height="23" fill="#00ff00"/>
<rect x="821" y="512" width="1" height="50" fill="#000"/>
<rect x="816" y="528" width="11" height="6" fill="#000"/>
<rect x="817" y="529" width="9" height="4" fill="#00ff00"/>
<rect x="837" y="393" width="1" height="160" fill="#000"/>
<rect x="832" y="443" width="11" height="91" fill="#000"/>
<rect x="833" y="444" width="9" height="89" fill="#ff0000"/>
<rect x="853" y="371" width="1" height="84" fill="#000"/>
<rect x="848" y="373" width="11" height="70" fill="#000"/>
<rect x="849" y="374" width="9" height="68" fill="#ff0000"/>
<rect x="869" y="387" width="1" height="17" fill="#000"/>
<rect x="864" y="387" width="11" height="11" fill="#000"/>
<rect x="865" y="388" width="9" height="9" fill="#00ff00"/>
<rect x="885" y="393" width="1" height="26" fill="#000"/>
<rect x="880" y="397" width="11" height="5" fill="#000"/>
<rect x="881" y="398" width="9" height="3" fill="#00ff00"/>
<rect x="901" y="361" width="1" height="42" fill="#000"/>
<rect x="896" y="365" width="11" height="37" fill="#000"/>
<rect x="897" y="366" width="9" height="35" fill="#ff0000"/>
<rect x="917" y="358" width="1" height="56" fill="#000"/>
<rect x="912" y="365" width="11" height="29" fill="#000"/>
<rect x="913" y="366" width="9" height="27" fill="#00ff00"/>
<rect x="933" y="378" width="1" height="33" fill="#000"/>
<rect x="928" y="393" width="11" height="5" fill="#000"/>
<rect x="929" y="394" width="9" height="3" fill="#00ff00"/>
<rect x="949" y="379" width="1" height="23" fill="#000"/>
<rect x="944" y="379" width="11" height="19" fill="#000"/>
<rect x="945" y="380" width="9" height="17" fill="#ff0000"/>
<rect x="965" y="376" width="1" height="14" fill="#000"/>
<rect x="960" y="379" width="11" height="7" fill="#000"/>
<rect x="961" y="380" width="9" height="5" fill="#00ff00"/>
<rect x="981" y="383" width="1" height="38" fill="#000"/>
<rect x="976" y="384" width="11" height="23" fill="#000"/>
<rect x="977" y="385" width="9" height="21" fill="#00ff00"/>
<rect x="997" y="394" width="1" height="51" fill="#000"/>
<rect x="992" y="406" width="11" height="12" fill="#000"/>
<rect x="993" y="407" width="9" height="10" fill="#00ff00"/>
<rect x="1013" y="269" width="1" height="191" fill="#000"/>
<rect x="1008" y="282" width="11" height="137" fill="#000"/>
<rect x="1009" y="283" width="9" height="135" fill="#ff0000"/>
<rect x="1029" y="227" width="1" height="130" fill="#000"/>
<rect x="1024" y="235" width="11" height="48" fill="#000"/>
<rect x="1025" y="236" width="9" height="46" fill="#ff0000"/>
<rect x="1045" y="235" width="1" height="66" fill="#000"/>
<rect x="1040" y="235" width="11" height="50" fill="#000"/>
<rect x="1041" y="236" width="9" height="48" fill="#00ff00"/>
<rect x="1061" y="274" width="1" height="23" fill="#000"/>
<rect x="1056" y="283" width="11" height="2" fill="#000"/>
<rect x="1077" y="245" width="1" height="43" fill="#000"/>
<rect x="1072" y="267" width="11" height="17" fill="#000"/>
<rect x="1073" y="268" width="9" height="15" fill="#ff0000"/>
<rect x="1093" y="254" width="1" height="46" fill="#000"/>
<rect x="1088" y="267" width="11" height="9" fill="#000"/>
<rect x="1089" y="268" width="9" height="7" fill="#00ff00"/>
<rect x="1109" y="267" width="1" height="83" fill="#000"/>
<rect x="1104" y="275" width="11" height="45" fill="#000"/>
<rect x="1105" y="276" width="9" height="43" fill="#00ff00"/>
<rect x="1125" y="267" width="1" height="82" fill="#000"/>
<rect x="1120" y="319" width="11" height="25" fill="#000"/>
<rect x="1121" y="320" width="9" height="23" fill="#00ff00"/>
<rect x="1141" y="321" width="1" height="70" fill="#000"/>
<rect x="1136" y="343" width="11" height="45" fill="#000"/>
<rect x="1137" y="344" width="9" height="43" fill="#00ff00"/>
<rect x="1157" y="367" width="1" height="22" fill="#000"/>
<rect x="1152" y="372" width="11" height="15" fill="#000"/>
<rect x="1153" y="373" width="9" height="13" fill="#ff0000"/>
<rect x="1173" y="341" width="1" height="34" fill="#000"/>
<rect x="1168" y="347" width="11" height="26" fill="#000"/>
<rect x="1169" y="348" width="9" height="24" fill="#ff0000"/>
<rect x="1189" y="331" width="1" height="34" fill="#000"/>
<rect x="1184" y="347" width="11" height="7" fill="#000"/>
<rect x="1185" y="348" width="9" height="5" fill="#00ff00"/>
<rect x="1205" y="350" width="1" height="70" fill="#000"/>
<rect x="1200" y="352" width="11" height="45" fill="#000"/>
<rect x="1201" y="353" width="9" height="43" fill="#00ff00"/>
<rect x="1221" y="340" width="1" height="81" fill="#000"/>
<rect x="1216" y="396" width="11" height="10" fill="#000"/>
<rect x="1217" y="397" width="9" height="8" fill="#00ff00"/>
<rect x="1237" y="392" width="1" height="60" fill="#000"/>
<rect x="1232" y="406" width="11" height="8" fill="#000"/>
<rect x="1233" y="407" width="9" height="6" fill="#00ff00"/>
<rect x="1253" y="405" width="1" height="11" fill="#000"/>
<rect x="1248" y="410" width="11" height="5" fill="#000"/>
<rect x="1249" y="411" width="9" height="3" fill="#ff0000"/>
</g>
<rect x="5" y="330" width="1613" height="2" fill="#ff0000" class="c"/>
<rect x="5" y="359" width="1613" height="2" fill="#ff0000" class="c"/>
<rect x="4" y="357" width="6" height="6" fill="#ff0000" class="c"/>
<rect x="6" y="359" width="2" height="2" fill="#fff" class="c"/>
<rect x="1611" y="357" width="6" height="6" fill="#ff0000" class="c"/>
<rect x="1613" y="359" width="2" height="2" fill="#fff" class="c"/>
<rect x="5" y="391" width="1613" height="2" fill="#ffa500" class="c"/>
<rect x="4" y="389" width="6" height="6" fill="#ffa500" class="c"/>
<rect x="6" y="391" width="2" height="2" fill="#fff" class="c"/>
<rect x="1611" y="389" width="6" height="6" fill="#ffa500" class="c"/>
<rect x="1613" y="391" width="2" height="2" fill="#fff" class="c"/>
<rect x="5" y="437" width="1613" height="2" fill="#0000ff" class="c"/>
<rect x="5" y="465" width="1613" height="2" fill="#0000ff" class="c"/>
<rect x="4" y="463" width="6" height="6" fill="#0000ff" class="c"/>
<rect x="6" y="465" width="2" height="2" fill="#fff" class="c"/>
<rect x="1611" y="463" width="6" height="6" fill="#0000ff" class="c"/>
<rect x="1613" y="465" width="2" height="2" fill="#fff" class="c"/>
<path d="M1253 296.7L1334 391.6" stroke="#4c9a2e" stroke-width="3.2" fill="none"/><path d="M1344.6 403.6L1326.2 396.6L1339.4 384.2z" fill="#4c9a2e"/>
<rect x="1618" y="44" width="2" height="1" fill="#000" class="c"/>
<text x="1623.4" y="48" font-size="10" fill="#000" textLength="32.6" lengthAdjust="spacingAndGlyphs" stroke="#000" stroke-width="0.3">1.22745</text>
<rect x="1618" y="77" width="2" height="1" fill="#000" class="c"/>
<text x="1623.4" y="81" font-size="10" fill="#000" textLength="32.6" lengthAdjust="spacingAndGlyphs" stroke="#000" stroke-width="0.3">1.22515</text>
<rect x="1618" y="110" width="2" height="1" fill="#000" class="c"/>
<text x="1623.4" y="114" font-size="10" fill="#000" textLength="32.6" lengthAdjust="spacingAndGlyphs" stroke="#000" stroke-width="0.3">1.22285</text>
<rect x="1618" y="143" width="2" height="1" fill="#000" class="c"/>
<text x="1623.4" y="147" font-size="10" fill="#000" textLength="32.6" lengthAdjust="spacingAndGlyphs" stroke="#000" stroke-width="0.3">1.22055</text>
<rect x="1618" y="176" width="2" height="1" fill="#000" class="c"/>
<text x="1623.4" y="180" font-size="10" fill="#000" textLength="32.6" lengthAdjust="spacingAndGlyphs" stroke="#000" stroke-width="0.3">1.21825</text>
<rect x="1618" y="209" width="2" height="1" fill="#000" class="c"/>
<text x="1623.4" y="213" font-size="10" fill="#000" textLength="32.6" lengthAdjust="spacingAndGlyphs" stroke="#000" stroke-width="0.3">1.21595</text>
<rect x="1618" y="242" width="2" height="1" fill="#000" class="c"/>
<text x="1623.4" y="246" font-size="10" fill="#000" textLength="32.6" lengthAdjust="spacingAndGlyphs" stroke="#000" stroke-width="0.3">1.21365</text>
<rect x="1618" y="275" width="2" height="1" fill="#000" class="c"/>
<text x="1623.4" y="279" font-size="10" fill="#000" textLength="32.6" lengthAdjust="spacingAndGlyphs" stroke="#000" stroke-width="0.3">1.21135</text>
<rect x="1618" y="308" width="2" height="1" fill="#000" class="c"/>
<text x="1623.4" y="312" font-size="10" fill="#000" textLength="32.6" lengthAdjust="spacingAndGlyphs" stroke="#000" stroke-width="0.3">1.20905</text>
<rect x="1618" y="341" width="2" height="1" fill="#000" class="c"/>
<text x="1623.4" y="345" font-size="10" fill="#000" textLength="32.6" lengthAdjust="spacingAndGlyphs" stroke="#000" stroke-width="0.3">1.20675</text>
<rect x="1618" y="374" width="2" height="1" fill="#000" class="c"/>
<text x="1623.4" y="378" font-size="10" fill="#000" textLength="32.6" lengthAdjust="spacingAndGlyphs" stroke="#000" stroke-width="0.3">1.20445</text>
<rect x="1618" y="407" width="2" height="1" fill="#000" class="c"/>
<text x="1623.4" y="411" font-size="10" fill="#000" textLength="32.6" lengthAdjust="spacingAndGlyphs" stroke="#000" stroke-width="0.3">1.20215</text>
<rect x="1618" y="440" width="2" height="1" fill="#000" class="c"/>
<text x="1623.4" y="444" font-size="10" fill="#000" textLength="32.6" lengthAdjust="spacingAndGlyphs" stroke="#000" stroke-width="0.3">1.19985</text>
<rect x="1618" y="473" width="2" height="1" fill="#000" class="c"/>
<text x="1623.4" y="477" font-size="10" fill="#000" textLength="32.6" lengthAdjust="spacingAndGlyphs" stroke="#000" stroke-width="0.3">1.19755</text>
<rect x="1618" y="506" width="2" height="1" fill="#000" class="c"/>
<text x="1623.4" y="510" font-size="10" fill="#000" textLength="32.6" lengthAdjust="spacingAndGlyphs" stroke="#000" stroke-width="0.3">1.19525</text>
<rect x="1618" y="539" width="2" height="1" fill="#000" class="c"/>
<text x="1623.4" y="543" font-size="10" fill="#000" textLength="32.6" lengthAdjust="spacingAndGlyphs" stroke="#000" stroke-width="0.3">1.19295</text>
<rect x="1618" y="572" width="2" height="1" fill="#000" class="c"/>
<text x="1623.4" y="576" font-size="10" fill="#000" textLength="32.6" lengthAdjust="spacingAndGlyphs" stroke="#000" stroke-width="0.3">1.19065</text>
<rect x="1619" y="325" width="41" height="11" fill="#ff0000" class="c"/>
<text x="1623.4" y="334" font-size="10" fill="#fff" textLength="32.6" lengthAdjust="spacingAndGlyphs" stroke="#fff" stroke-width="0.3">1.20748</text>
<rect x="1619" y="354" width="41" height="11" fill="#ff0000" class="c"/>
<text x="1623.4" y="363" font-size="10" fill="#fff" textLength="32.6" lengthAdjust="spacingAndGlyphs" stroke="#fff" stroke-width="0.3">1.20546</text>
<rect x="1619" y="386" width="41" height="11" fill="#ffa500" class="c"/>
<text x="1623.4" y="395" font-size="10" fill="#fff" textLength="32.6" lengthAdjust="spacingAndGlyphs" stroke="#fff" stroke-width="0.3">1.20323</text>
<rect x="1619" y="405" width="41" height="11" fill="#000000" class="c"/>
<text x="1623.4" y="414" font-size="10" fill="#fff" textLength="32.6" lengthAdjust="spacingAndGlyphs" stroke="#fff" stroke-width="0.3">1.20199</text>
<rect x="1619" y="432" width="41" height="11" fill="#0000ff" class="c"/>
<text x="1623.4" y="441" font-size="10" fill="#fff" textLength="32.6" lengthAdjust="spacingAndGlyphs" stroke="#fff" stroke-width="0.3">1.20003</text>
<rect x="1619" y="460" width="41" height="11" fill="#0000ff" class="c"/>
<text x="1623.4" y="469" font-size="10" fill="#fff" textLength="32.6" lengthAdjust="spacingAndGlyphs" stroke="#fff" stroke-width="0.3">1.19808</text>
<text x="9.2" y="589.5" font-size="10" fill="#000" textLength="150.4" lengthAdjust="spacingAndGlyphs" stroke="#000" stroke-width="0.3">MACD(12,26,9) -0.000706 0.000274</text>
<g class="c" fill="#00ff00">
<rect x="5" y="602" width="2" height="85"/>
<rect x="20" y="602" width="3" height="83"/>
<rect x="36" y="602" width="3" height="82"/>
<rect x="52" y="602" width="3" height="83"/>
<rect x="68" y="602" width="3" height="80"/>
<rect x="84" y="602" width="3" height="76"/>
<rect x="100" y="602" width="3" height="71"/>
<rect x="116" y="602" width="3" height="65"/>
<rect x="132" y="602" width="3" height="57"/>
<rect x="148" y="602" width="3" height="50"/>
<rect x="164" y="602" width="3" height="45"/>
<rect x="180" y="602" width="3" height="41"/>
<rect x="196" y="602" width="3" height="38"/>
<rect x="212" y="602" width="3" height="34"/>
<rect x="228" y="602" width="3" height="30"/>
<rect x="244" y="602" width="3" height="22"/>
<rect x="260" y="602" width="3" height="13"/>
<rect x="276" y="602" width="3" height="11"/>
<rect x="292" y="602" width="3" height="9"/>
<rect x="308" y="602" width="3" height="9"/>
<rect x="324" y="602" width="3" height="7"/>
<rect x="340" y="602" width="3" height="6"/>
<rect x="356" y="602" width="3" height="8"/>
<rect x="372" y="602" width="3" height="11"/>
<rect x="388" y="602" width="3" height="14"/>
<rect x="404" y="602" width="3" height="17"/>
<rect x="420" y="602" width="3" height="17"/>
<rect x="436" y="602" width="3" height="17"/>
<rect x="452" y="602" width="3" height="10"/>
<rect x="468" y="602" width="3" height="6"/>
<rect x="484" y="602" width="3" height="1"/>
<rect x="500" y="598" width="3" height="4"/>
<rect x="516" y="596" width="3" height="6"/>
<rect x="532" y="589" width="3" height="13"/>
<rect x="548" y="588" width="3" height="14"/>
<rect x="564" y="585" width="3" height="17"/>
<rect x="580" y="584" width="3" height="18"/>
<rect x="596" y="585" width="3" height="17"/>
<rect x="612" y="592" width="3" height="10"/>
<rect x="628" y="598" width="3" height="4"/>
<rect x="644" y="602" width="3" height="7"/>
<rect x="660" y="602" width="3" height="13"/>
<rect x="676" y="602" width="3" height="16"/>
<rect x="692" y="602" width="3" height="18"/>
<rect x="708" y="602" width="3" height="19"/>
<rect x="724" y="602" width="3" height="19"/>
<rect x="740" y="602" width="3" height="22"/>
<rect x="756" y="602" width="3" height="25"/>
<rect x="772" y="602" width="3" height="29"/>
<rect x="788" y="602" width="3" height="34"/>
<rect x="804" y="602" width="3" height="39"/>
<rect x="820" y="602" width="3" height="42"/>
<rect x="836" y="602" width="3" height="40"/>
<rect x="852" y="602" width="3" height="32"/>
<rect x="868" y="602" width="3" height="29"/>
<rect x="884" y="602" width="3" height="26"/>
<rect x="900" y="602" width="3" height="21"/>
<rect x="916" y="602" width="3" height="18"/>
<rect x="932" y="602" width="3" height="16"/>
<rect x="948" y="602" width="3" height="14"/>
<rect x="964" y="602" width="3" height="12"/>
<rect x="980" y="602" width="3" height="11"/>
<rect x="996" y="602" width="3" height="11"/>
<rect x="1012" y="602" width="3" height="4"/>
<rect x="1028" y="596" width="3" height="6"/>
<rect x="1044" y="592" width="3" height="10"/>
<rect x="1060" y="589" width="3" height="13"/>
<rect x="1076" y="586" width="3" height="16"/>
<rect x="1092" y="584" width="3" height="18"/>
<rect x="1108" y="586" width="3" height="16"/>
<rect x="1124" y="588" width="3" height="14"/>
<rect x="1140" y="593" width="3" height="9"/>
<rect x="1156" y="595" width="3" height="7"/>
<rect x="1172" y="596" width="3" height="6"/>
<rect x="1188" y="597" width="3" height="5"/>
<rect x="1204" y="601" width="3" height="1"/>
<rect x="1220" y="602" width="3" height="3"/>
<rect x="1236" y="602" width="3" height="6"/>
<rect x="1252" y="602" width="3" height="8"/>
</g>
<polyline points="5.5,674.7 21.5,678.3 37.5,682.0 53.5,683.0 69.5,683.0 85.5,683.0 101.5,683.0 117.5,680.6 133.5,677.7 149.5,673.7 165.5,669.7 181.5,665.2 197.5,660.2 213.5,654.9 229.5,649.9 245.5,643.6 261.5,638.4 277.5,632.5 293.5,628.1 309.5,624.6 325.5,620.2 341.5,617.0 357.5,614.6 373.5,612.0 389.5,611.3 405.5,611.3 421.5,612.5 437.5,612.7 453.5,612.7 469.5,612.7 485.5,612.7 501.5,611.3 517.5,609.3 533.5,607.7 549.5,603.7 565.5,600.4 581.5,596.2 597.5,593.2 613.5,590.8 629.5,590.8 645.5,591.6 661.5,593.2 677.5,597.2 693.5,600.4 709.5,604.7 725.5,608.3 741.5,612.3 757.5,616.2 773.5,620.6 789.5,623.6 805.5,626.5 821.5,629.5 837.5,631.5 853.5,633.7 869.5,633.9 885.5,633.9 901.5,633.9 917.5,632.5 933.5,630.9 949.5,628.9 965.5,624.8 981.5,622.0 997.5,619.6 1013.5,616.6 1029.5,612.7 1045.5,609.7 1061.5,606.7 1077.5,602.8 1093.5,599.8 1109.5,596.4 1125.5,593.2 1141.5,590.9 1157.5,590.5 1173.5,589.9 1189.5,590.9 1205.5,591.8 1221.5,593.8 1237.5,595.8 1253.5,599.0" fill="none" stroke="#ff0000" stroke-width="2" class="c"/>
<rect x="1618" y="602" width="2" height="1" fill="#000" class="c"/>
<rect x="1618" y="691" width="1" height="1" fill="#000" class="c"/>
<text x="1620.8" y="588" font-size="10" fill="#000" textLength="37.6" lengthAdjust="spacingAndGlyphs" stroke="#000" stroke-width="0.3">0.002308</text>
<text x="1620.8" y="606" font-size="10" fill="#000" textLength="17.6" lengthAdjust="spacingAndGlyphs" stroke="#000" stroke-width="0.3">0.00</text>
<text x="1621.2" y="689" font-size="10" fill="#000" textLength="40.6" lengthAdjust="spacingAndGlyphs" stroke="#000" stroke-width="0.3">-0.008938</text>
<text x="9.2" y="706.6" font-size="10" fill="#000" textLength="67.6" lengthAdjust="spacingAndGlyphs" stroke="#000" stroke-width="0.3">RSI(14) 42.9184</text>
<path d="M6 719.5H1617" stroke="#000" stroke-width="1" stroke-dasharray="3 3" class="c"/>
<path d="M6 755.5H1617" stroke="#000" stroke-width="1" stroke-dasharray="3 3" class="c"/>
<path d="M6 797.5H1617" stroke="#000" stroke-width="1" stroke-dasharray="3 3" class="c"/>
<polyline points="5.5,784.2 21.5,779.8 37.5,781.2 53.5,785.2 69.5,778.6 85.5,773.3 101.5,768.3 117.5,767.9 133.5,760.0 149.5,760.0 165.5,762.4 181.5,763.4 197.5,763.8 213.5,761.4 229.5,757.4 245.5,746.9 261.5,744.1 277.5,754.4 293.5,754.8 309.5,758.8 325.5,754.0 341.5,756.4 357.5,762.4 373.5,765.7 389.5,766.3 405.5,766.7 421.5,763.0 437.5,762.8 453.5,747.9 469.5,747.9 485.5,745.9 501.5,745.9 517.5,747.9 533.5,738.2 549.5,747.9 565.5,745.5 581.5,745.1 597.5,751.1 613.5,762.4 629.5,766.3 645.5,772.9 661.5,769.3 677.5,766.3 693.5,764.0 709.5,763.8 725.5,762.8 741.5,768.7 757.5,768.9 773.5,774.3 789.5,777.8 805.5,779.0 821.5,779.0 837.5,763.4 853.5,754.8 869.5,757.8 885.5,757.8 901.5,753.9 917.5,756.8 933.5,756.8 949.5,755.4 965.5,755.0 981.5,759.8 997.5,760.0 1013.5,742.2 1029.5,739.0 1045.5,744.9 1061.5,744.9 1077.5,743.9 1093.5,744.9 1109.5,752.1 1125.5,755.0 1141.5,760.8 1157.5,759.4 1173.5,756.0 1189.5,756.0 1205.5,762.8 1221.5,763.8 1237.5,763.8 1253.5,763.8" fill="none" stroke="#1e90ff" stroke-width="2" class="c"/>
<rect x="1618" y="696" width="1" height="1" fill="#000" class="c"/>
<rect x="1618" y="814" width="2" height="1" fill="#000" class="c"/>
<text x="1621.4" y="705" font-size="10" fill="#000" textLength="14.8" lengthAdjust="spacingAndGlyphs" stroke="#000" stroke-width="0.3">100</text>
<text x="1620" y="723" font-size="10" fill="#000" textLength="10" lengthAdjust="spacingAndGlyphs" stroke="#000" stroke-width="0.3">80</text>
<text x="1620" y="759" font-size="10" fill="#000" textLength="10" lengthAdjust="spacingAndGlyphs" stroke="#000" stroke-width="0.3">50</text>
<text x="1620" y="801" font-size="10" fill="#000" textLength="10" lengthAdjust="spacingAndGlyphs" stroke="#000" stroke-width="0.3">15</text>
<text x="1621.4" y="812" font-size="10" fill="#000" textLength="4.8" lengthAdjust="spacingAndGlyphs" stroke="#000" stroke-width="0.3">0</text>
<rect x="5" y="816" width="1" height="3" fill="#000" class="c"/>
<text x="4" y="828" font-size="10" fill="#000" textLength="46.8" lengthAdjust="spacingAndGlyphs" stroke="#000" stroke-width="0.3">6 Feb 2023</text>
<rect x="69" y="816" width="1" height="3" fill="#000" class="c"/>
<text x="68" y="828" font-size="10" fill="#000" textLength="50" lengthAdjust="spacingAndGlyphs" stroke="#000" stroke-width="0.3">7 Feb 12:00</text>
<rect x="133" y="816" width="1" height="3" fill="#000" class="c"/>
<text x="132" y="828" font-size="10" fill="#000" textLength="50" lengthAdjust="spacingAndGlyphs" stroke="#000" stroke-width="0.3">8 Feb 04:00</text>
<rect x="197" y="816" width="1" height="3" fill="#000" class="c"/>
<text x="196" y="828" font-size="10" fill="#000" textLength="50" lengthAdjust="spacingAndGlyphs" stroke="#000" stroke-width="0.3">8 Feb 20:00</text>
<rect x="261" y="816" width="1" height="3" fill="#000" class="c"/>
<text x="260" y="828" font-size="10" fill="#000" textLength="50" lengthAdjust="spacingAndGlyphs" stroke="#000" stroke-width="0.3">9 Feb 12:00</text>
<rect x="325" y="816" width="1" height="3" fill="#000" class="c"/>
<text x="324" y="828" font-size="10" fill="#000" textLength="55" lengthAdjust="spacingAndGlyphs" stroke="#000" stroke-width="0.3">10 Feb 04:00</text>
<rect x="389" y="816" width="1" height="3" fill="#000" class="c"/>
<text x="388" y="828" font-size="10" fill="#000" textLength="55" lengthAdjust="spacingAndGlyphs" stroke="#000" stroke-width="0.3">12 Feb 23:00</text>
<rect x="453" y="816" width="1" height="3" fill="#000" class="c"/>
<text x="452" y="828" font-size="10" fill="#000" textLength="55" lengthAdjust="spacingAndGlyphs" stroke="#000" stroke-width="0.3">13 Feb 12:00</text>
<rect x="517" y="816" width="1" height="3" fill="#000" class="c"/>
<text x="516" y="828" font-size="10" fill="#000" textLength="55" lengthAdjust="spacingAndGlyphs" stroke="#000" stroke-width="0.3">14 Feb 04:00</text>
<rect x="581" y="816" width="1" height="3" fill="#000" class="c"/>
<text x="580" y="828" font-size="10" fill="#000" textLength="55" lengthAdjust="spacingAndGlyphs" stroke="#000" stroke-width="0.3">14 Feb 20:00</text>
<rect x="645" y="816" width="1" height="3" fill="#000" class="c"/>
<text x="644" y="828" font-size="10" fill="#000" textLength="55" lengthAdjust="spacingAndGlyphs" stroke="#000" stroke-width="0.3">15 Feb 12:00</text>
<rect x="709" y="816" width="1" height="3" fill="#000" class="c"/>
<text x="708" y="828" font-size="10" fill="#000" textLength="55" lengthAdjust="spacingAndGlyphs" stroke="#000" stroke-width="0.3">16 Feb 04:00</text>
<rect x="773" y="816" width="1" height="3" fill="#000" class="c"/>
<text x="772" y="828" font-size="10" fill="#000" textLength="55" lengthAdjust="spacingAndGlyphs" stroke="#000" stroke-width="0.3">16 Feb 20:00</text>
<rect x="837" y="816" width="1" height="3" fill="#000" class="c"/>
<text x="836" y="828" font-size="10" fill="#000" textLength="55" lengthAdjust="spacingAndGlyphs" stroke="#000" stroke-width="0.3">17 Feb 12:00</text>
<rect x="901" y="816" width="1" height="3" fill="#000" class="c"/>
<text x="900" y="828" font-size="10" fill="#000" textLength="55" lengthAdjust="spacingAndGlyphs" stroke="#000" stroke-width="0.3">20 Feb 04:00</text>
<rect x="965" y="816" width="1" height="3" fill="#000" class="c"/>
<text x="964" y="828" font-size="10" fill="#000" textLength="55" lengthAdjust="spacingAndGlyphs" stroke="#000" stroke-width="0.3">20 Feb 20:00</text>
<rect x="1029" y="816" width="1" height="3" fill="#000" class="c"/>
<text x="1028" y="828" font-size="10" fill="#000" textLength="55" lengthAdjust="spacingAndGlyphs" stroke="#000" stroke-width="0.3">21 Feb 12:00</text>
<rect x="1093" y="816" width="1" height="3" fill="#000" class="c"/>
<text x="1092" y="828" font-size="10" fill="#000" textLength="55" lengthAdjust="spacingAndGlyphs" stroke="#000" stroke-width="0.3">22 Feb 04:00</text>
<rect x="1157" y="816" width="1" height="3" fill="#000" class="c"/>
<text x="1156" y="828" font-size="10" fill="#000" textLength="55" lengthAdjust="spacingAndGlyphs" stroke="#000" stroke-width="0.3">22 Feb 20:00</text>
<rect x="1221" y="816" width="1" height="3" fill="#000" class="c"/>
<text x="1220" y="828" font-size="10" fill="#000" textLength="55" lengthAdjust="spacingAndGlyphs" stroke="#000" stroke-width="0.3">23 Feb 12:00</text>
</svg></body></html>
